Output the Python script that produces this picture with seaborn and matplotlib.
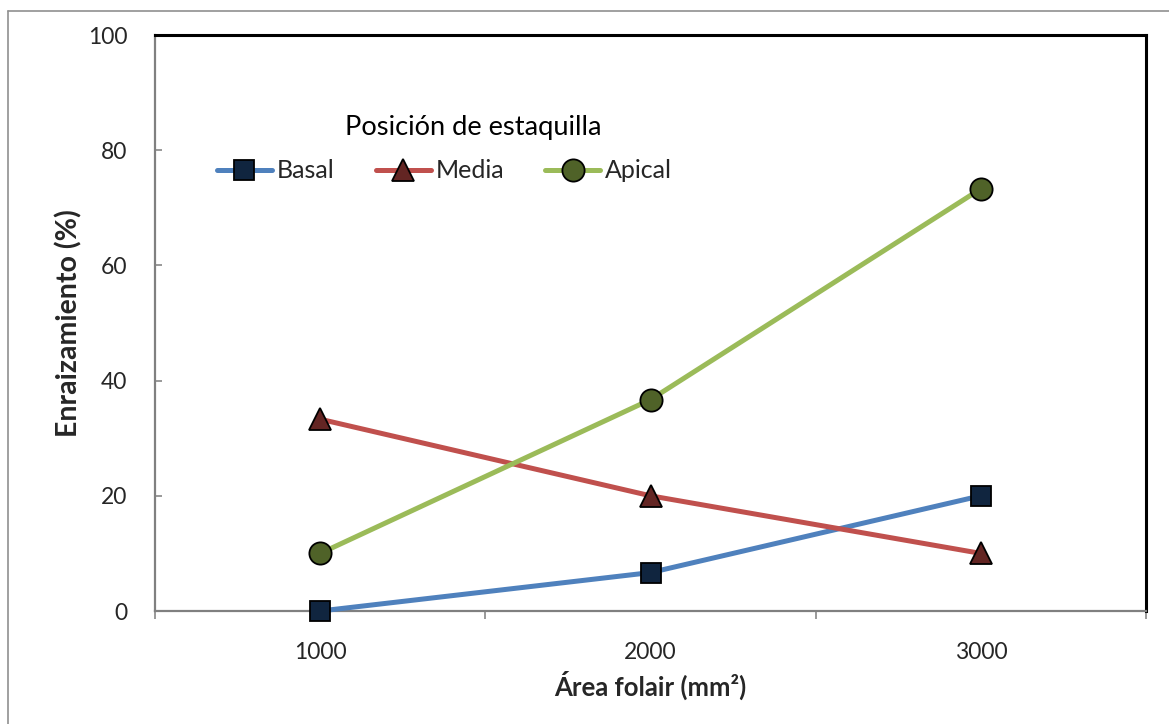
import matplotlib
matplotlib.use("Agg")
import matplotlib.pyplot as plt
import seaborn as sns
import pandas as pd
from matplotlib.lines import Line2D

categories = ["1000", "2000", "3000"]
basal = [0.0, 6.67, 20.0]
media = [33.3, 20.0, 10.0]
apical = [10.0, 36.7, 73.3]
series_names = ["Basal", "Media", "Apical"]
y_ticks = [0, 20, 40, 60, 80, 100]

sns.set_theme(style="white")
plt.rcParams['font.family'] = ['Lato', 'DejaVu Sans']

fig = plt.figure(figsize=(11.69, 7.24), dpi=100)
W, H = 1169, 724
ax = fig.add_axes([155 / W, 113 / H, (1146 - 155) / W, (611 - 35) / H])

styles = {
    "Basal": dict(color="#4F81BD", marker="s", mfc="#10253F", ms=15),
    "Media": dict(color="#C0504D", marker="^", mfc="#632523", ms=16),
    "Apical": dict(color="#9BBB59", marker="o", mfc="#4F6228", ms=16),
}
values = {"Basal": basal, "Media": media, "Apical": apical}

for name in series_names:
    df = pd.DataFrame({"x": range(len(categories)), "y": values[name]})
    st = styles[name]
    sns.lineplot(data=df, x="x", y="y", ax=ax, color=st["color"], linewidth=3.6,
                 marker=st["marker"], markersize=st["ms"], markerfacecolor=st["mfc"],
                 markeredgecolor="black", markeredgewidth=1.3, label=name,
                 clip_on=False, zorder=5)

ax.set_xlim(-0.5, len(categories) - 0.5)
ax.set_ylim(0, 100)
ax.set_yticks(y_ticks)
ax.set_yticklabels([str(v) for v in y_ticks], fontsize=16.5)
ax.set_xticks([i - 0.5 for i in range(len(categories) + 1)])
ax.set_xticklabels([])
ax.set_xticks(range(len(categories)), minor=True)
ax.set_xticklabels(categories, minor=True, fontsize=16.5)
ax.tick_params(axis="x", which="major", direction="out", length=6, width=1.2, color="#888888", bottom=True)
ax.tick_params(axis="x", which="minor", length=0, pad=22, bottom=True)
ax.tick_params(axis="y", which="major", direction="in", length=5, width=1.2, color="#888888", pad=20, left=True)

for s in ["left", "bottom"]:
    ax.spines[s].set_color("#808080")
    ax.spines[s].set_linewidth(1.6)
for s in ["top", "right"]:
    ax.spines[s].set_color("black")
    ax.spines[s].set_linewidth(2.2)

ax.set_xlabel("Área folair (mm²)", fontsize=18.5, fontweight="bold", labelpad=6)
ax.set_ylabel("Enraizamiento (%)", fontsize=20.5, fontweight="bold", labelpad=4)

def px_to_ax(px, py):
    return ((px - 155) / 991, (611 - py) / 576)

leg = ax.legend(ncol=3, loc="center left", bbox_to_anchor=px_to_ax(217, 171), frameon=False,
                fontsize=18, handlelength=2.2, handletextpad=0.2,
                columnspacing=1.64, borderpad=0, borderaxespad=0)
tx, ty = px_to_ax(473, 135)
ax.text(tx, ty, "Posición de estaquilla", transform=ax.transAxes, ha="center", va="baseline",
        fontsize=19.6, color="black")

fig.add_artist(Line2D([8 / W, 8 / W], [0, 1 - 11 / H], color="#909090", linewidth=1.2))
fig.add_artist(Line2D([8 / W, 1], [1 - 11 / H, 1 - 11 / H], color="#909090", linewidth=1.2))

fig.savefig("out.png", dpi=100)
